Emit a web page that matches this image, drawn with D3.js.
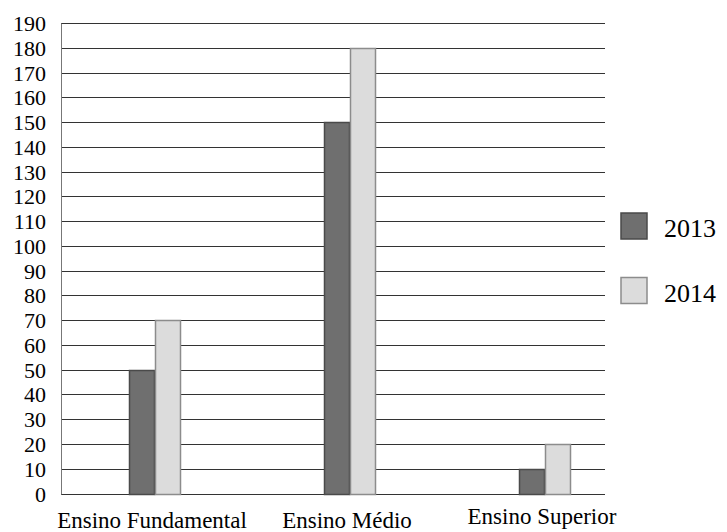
<!DOCTYPE html>
<html>
<head>
<meta charset="utf-8">
<script src="https://cdn.jsdelivr.net/npm/d3@7"></script>
<style>
body { margin: 0; background: #fff; }
</style>
</head>
<body>
<div class="mainviz"></div>
<script>
var categories = ["Ensino Fundamental", "Ensino Médio", "Ensino Superior"];
var years = ["2013", "2014"];
var values2013 = [50, 150, 10];
var values2014 = [70, 180, 20];
var yTicks = d3.range(0, 191, 10);

var width = 727, height = 532;
var plotLeft = 61, plotRight = 605, plotTop = 23, plotBottom = 493.5;
var serif = "Liberation Serif, DejaVu Serif, serif";

var svg = d3.select(".mainviz").append("svg")
	.attr("width", width)
	.attr("height", height)
	.attr("font-family", serif);

var y = d3.scaleLinear()
	.domain([0, 190])
	.range([plotBottom, plotTop]);

var x = d3.scalePoint()
	.domain(categories)
	.range([155, 545]);

var xSub = d3.scaleBand()
	.domain(years)
	.range([-26, 26]);

var colors = { "2013": "#6f6f6f", "2014": "#dcdcdc" };
var strokes = { "2013": "#4a4a4a", "2014": "#8c8c8c" };

var data = categories.map(function (c, i) {
	return { cat: c, "2013": values2013[i], "2014": values2014[i] };
});

// gridlines
svg.append("g")
	.selectAll("line")
	.data(yTicks)
	.enter().append("line")
	.attr("x1", plotLeft)
	.attr("x2", plotRight)
	.attr("y1", function (d) { return Math.round(y(d)) + 0.5; })
	.attr("y2", function (d) { return Math.round(y(d)) + 0.5; })
	.attr("stroke", "#333")
	.attr("stroke-width", 1.2);

// y axis line
svg.append("line")
	.attr("x1", plotLeft + 0.5).attr("x2", plotLeft + 0.5)
	.attr("y1", Math.round(y(190)) + 0.5).attr("y2", Math.round(y(0)) + 0.5)
	.attr("stroke", "#777");

// tick labels
svg.append("g")
	.selectAll("text")
	.data(yTicks)
	.enter().append("text")
	.attr("x", 46)
	.attr("y", function (d) { return y(d) + 8; })
	.attr("text-anchor", "end")
	.attr("font-size", 22)
	.text(function (d) { return d; });

// bars
var groups = svg.append("g")
	.selectAll("g")
	.data(data)
	.enter().append("g")
	.attr("transform", function (d) { return "translate(" + x(d.cat) + ",0)"; });

groups.selectAll("rect")
	.data(function (d) { return years.map(function (k) { return { key: k, value: d[k] }; }); })
	.enter().append("rect")
	.attr("x", function (d) { return xSub(d.key) + 0.5; })
	.attr("width", xSub.bandwidth() - 1)
	.attr("y", function (d) { return Math.round(y(d.value)) + 0.5; })
	.attr("height", function (d) { return Math.round(y(0)) - Math.round(y(d.value)); })
	.attr("fill", function (d) { return colors[d.key]; })
	.attr("stroke", function (d) { return strokes[d.key]; })
	.attr("stroke-width", 1.5);

// category labels
var labelY = [528, 528, 524];
svg.append("g")
	.selectAll("text")
	.data(categories)
	.enter().append("text")
	.attr("x", function (d) { return x(d) - 3; })
	.attr("y", function (d, i) { return labelY[i]; })
	.attr("text-anchor", "middle")
	.attr("font-size", 23)
	.text(function (d) { return d; });

// legend
var legend = svg.append("g")
	.selectAll("g")
	.data(years)
	.enter().append("g")
	.attr("transform", function (d, i) { return "translate(621," + (213 + i * 64.5) + ")"; });

legend.append("rect")
	.attr("width", 26)
	.attr("height", 26)
	.attr("fill", function (d) { return colors[d]; })
	.attr("stroke", function (d) { return strokes[d]; })
	.attr("stroke-width", 1.5);

legend.append("text")
	.attr("x", 43)
	.attr("y", 24)
	.attr("font-size", 26)
	.text(function (d) { return d; });
</script>
</body>
</html>
